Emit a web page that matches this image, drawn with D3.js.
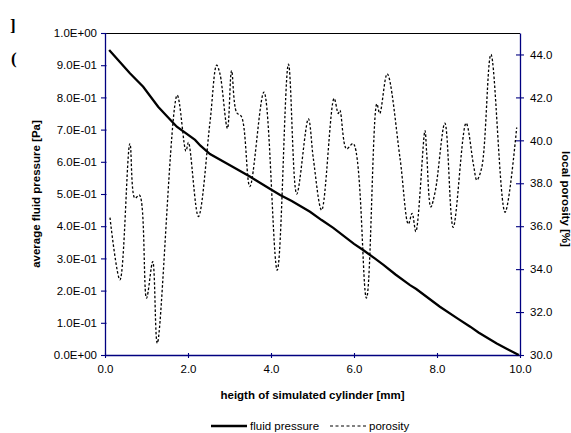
<!DOCTYPE html>
<html>
<head>
<meta charset="utf-8">
<script src="https://cdn.jsdelivr.net/npm/d3@7"></script>
<style>
  html, body { margin: 0; padding: 0; background: #fff; }
  text { font-family: Arial, "Liberation Sans", sans-serif; }
</style>
</head>
<body>
<svg id="chart" width="571" height="433"></svg>
<script>
// ---- data ----
const pressureX = [0.1, 0.6, 0.92, 1.28, 1.73, 2.17, 2.3, 2.53, 3.0, 3.49, 4.0, 4.22, 4.5, 4.94, 5.22, 5.5, 6.0, 6.22, 6.5, 6.71, 7.0, 7.35, 7.5, 8.07, 8.5, 8.8, 9.0, 9.44, 9.7, 9.97];
const pressureY = [0.947, 0.875, 0.833, 0.771, 0.709, 0.668, 0.650, 0.624, 0.590, 0.554, 0.514, 0.497, 0.478, 0.445, 0.419, 0.395, 0.345, 0.326, 0.300, 0.280, 0.250, 0.217, 0.205, 0.150, 0.113, 0.088, 0.070, 0.036, 0.018, 0.0];

const porosityX = [0.12, 0.36, 0.6, 0.72, 0.83, 1.0, 1.15, 1.26, 1.74, 1.95, 2.01, 2.25, 2.53, 2.69, 2.77, 2.95, 3.05, 3.17, 3.29, 3.49, 3.83, 4.15, 4.42, 4.62, 4.9, 5.02, 5.22, 5.52, 5.62, 5.66, 5.82, 5.98, 6.3, 6.55, 6.62, 6.8, 7.11, 7.31, 7.4, 7.49, 7.71, 7.75, 7.85, 7.96, 8.19, 8.39, 8.7, 8.88, 8.96, 9.08, 9.3, 9.64, 9.92];
const porosityY = [36.4, 33.5, 39.85, 37.3, 37.45, 32.65, 34.35, 30.55, 42.1, 39.5, 39.9, 36.45, 40.85, 43.5, 43.1, 40.55, 43.25, 41.3, 41.1, 37.85, 42.25, 33.95, 43.55, 37.5, 41.0, 39.15, 36.75, 41.95, 41.25, 41.4, 39.6, 39.85, 32.65, 41.7, 41.25, 43.1, 39.15, 36.1, 36.6, 35.75, 40.45, 39.45, 36.9, 37.65, 40.8, 35.95, 40.8, 38.85, 38.15, 38.75, 44.0, 36.65, 40.6];

const xTicks = [0, 2, 4, 6, 8, 10];
const leftTicks = [0, 0.1, 0.2, 0.3, 0.4, 0.5, 0.6, 0.7, 0.8, 0.9, 1.0];
const rightTicks = [30, 32, 34, 36, 38, 40, 42, 44];
const leftTickLabels = ["0.0E+00","1.0E-01","2.0E-01","3.0E-01","4.0E-01","5.0E-01","6.0E-01","7.0E-01","8.0E-01","9.0E-01","1.0E+00"];

const xTitle = "heigth of simulated cylinder [mm]";
const yLeftTitle = "average fluid pressure [Pa]";
const yRightTitle = "local porosity [%]";
const seriesNames = ["fluid pressure", "porosity"];

// ---- layout ----
const L = 105, R = 520, T = 33, B = 355;
const navy = "#000080";
const svg = d3.select("#chart");

const x = d3.scaleLinear().domain([0, 10]).range([L, R]);
const yL = d3.scaleLinear().domain([0, 1]).range([B, T]);
const yR = d3.scaleLinear().domain([30, 45]).range([B, T]);

// top border
svg.append("line").attr("x1", L).attr("x2", R).attr("y1", T + 0.5).attr("y2", T + 0.5)
  .attr("stroke", "#000").attr("stroke-width", 1);

// axes
function styleAxis(g) {
  g.select(".domain").attr("stroke", navy).attr("stroke-width", 1.3);
  g.selectAll(".tick line").attr("stroke", navy).attr("stroke-width", 1.1);
  g.selectAll(".tick text").attr("fill", "#000").style("font-size", "11.5px")
    .style("font-family", "Arial, 'Liberation Sans', sans-serif");
}

const xAxis = svg.append("g").attr("transform", `translate(0,${B})`)
  .call(d3.axisBottom(x).tickValues(xTicks).tickFormat(d3.format(".1f")).tickSizeInner(3).tickSizeOuter(0).tickPadding(7));
styleAxis(xAxis);
xAxis.selectAll(".tick line").attr("y1", -2);

const lAxis = svg.append("g").attr("transform", `translate(${L},0)`)
  .call(d3.axisLeft(yL).tickValues(leftTicks).tickFormat((d, i) => leftTickLabels[i]).tickSizeInner(4).tickSizeOuter(0).tickPadding(4));
styleAxis(lAxis);
lAxis.selectAll(".tick line").attr("x1", 1.5);

const rAxis = svg.append("g").attr("transform", `translate(${R},0)`)
  .call(d3.axisRight(yR).tickValues(rightTicks).tickFormat(d3.format(".1f")).tickSizeInner(4).tickSizeOuter(0).tickPadding(6));
styleAxis(rAxis);
rAxis.selectAll(".tick line").attr("x1", -4);

// series
const porData = porosityX.map((d, i) => [d, porosityY[i]]);
const presData = pressureX.map((d, i) => [d, pressureY[i]]);

svg.append("path").datum(porData)
  .attr("fill", "none").attr("stroke", "#000").attr("stroke-width", 1.3)
  .attr("stroke-dasharray", "2.5,2")
  .attr("d", d3.line().x(d => x(d[0])).y(d => yR(d[1])).curve(d3.curveCatmullRom.alpha(0.5)));

svg.append("path").datum(presData)
  .attr("fill", "none").attr("stroke", "#000").attr("stroke-width", 2.3)
  .attr("d", d3.line().x(d => x(d[0])).y(d => yL(d[1])));

// titles
svg.append("text").attr("x", (L + R) / 2).attr("y", 399).attr("text-anchor", "middle")
  .style("font-size", "11.5px").style("font-weight", "bold").text(xTitle);

svg.append("text").attr("transform", `translate(40,${(T + B) / 2}) rotate(-90)`).attr("text-anchor", "middle")
  .style("font-size", "11.5px").style("font-weight", "bold").text(yLeftTitle);

svg.append("text").attr("transform", `translate(562,${(T + B) / 2 + 5}) rotate(90)`).attr("text-anchor", "middle")
  .style("font-size", "11.5px").style("font-weight", "bold").text(yRightTitle);

// stray glyphs at top-left
svg.append("text").attr("x", 10).attr("y", 31).style("font-family", "'Liberation Serif', serif")
  .style("font-size", "17px").style("font-weight", "bold").text("]");
svg.append("text").attr("x", 11).attr("y", 64).style("font-family", "'Liberation Serif', serif")
  .style("font-size", "17px").style("font-weight", "bold").text("(");

// legend
const lg = svg.append("g");
lg.append("line").attr("x1", 211).attr("x2", 247).attr("y1", 426).attr("y2", 426)
  .attr("stroke", "#000").attr("stroke-width", 2.3);
lg.append("text").attr("x", 250).attr("y", 430).style("font-size", "11.5px").text(seriesNames[0]);
lg.append("line").attr("x1", 330).attr("x2", 366).attr("y1", 426).attr("y2", 426)
  .attr("stroke", "#000").attr("stroke-width", 1).attr("stroke-dasharray", "3,2.5");
lg.append("text").attr("x", 369).attr("y", 430).style("font-size", "11.5px").text(seriesNames[1]);
</script>
</body>
</html>
